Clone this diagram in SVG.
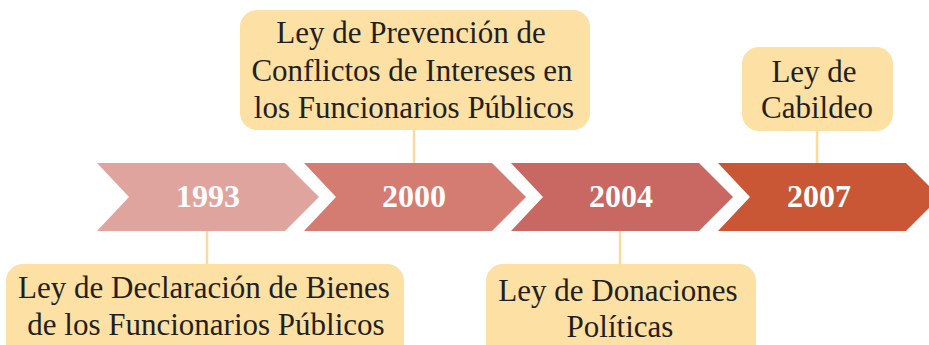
<svg xmlns="http://www.w3.org/2000/svg" width="929" height="345" viewBox="0 0 929 345">
<style>
.box{fill:#FDE0A3}
.lbl{font-family:"Liberation Serif","Times New Roman",serif;font-size:31px;fill:#231F20;text-anchor:middle}
.yr{font-family:"Liberation Serif","Times New Roman",serif;font-size:32px;font-weight:bold;fill:#FFFFFF;text-anchor:middle}
.conn{stroke:#FADB9B;stroke-width:2.5;fill:none}
</style>
<rect width="929" height="345" fill="#FFFFFF"/>
<g id="connectors">
<line class="conn" x1="207" y1="231" x2="207" y2="265"/>
<line class="conn" x1="414" y1="129" x2="414" y2="164"/>
<line class="conn" x1="620" y1="231" x2="620" y2="265"/>
<line class="conn" x1="817" y1="130" x2="817" y2="164"/>
</g>
<g id="y1993">
<polygon points="97,163 285,163 319,197 285,231 97,231 129,197" fill="#E0A49F"/>
<text class="yr" x="208" y="207">1993</text>
</g>
<g id="y2000">
<polygon points="304,163 492,163 526,197 492,231 304,231 336,197" fill="#D57C72"/>
<text class="yr" x="414" y="207">2000</text>
</g>
<g id="y2004">
<polygon points="511,163 699,163 733,197 699,231 511,231 543,197" fill="#C96762"/>
<text class="yr" x="621" y="207">2004</text>
</g>
<g id="y2007">
<polygon points="718,163 906,163 940,197 906,231 718,231 750,197" fill="#C95634"/>
<text class="yr" x="819" y="207">2007</text>
</g>
<g id="ley-declaracion">
<rect class="box" x="6" y="264" width="398" height="100" rx="17"/>
<text class="lbl" x="204" y="298">Ley de Declaración de Bienes</text>
<text class="lbl" x="206" y="335">de los Funcionarios Públicos</text>
</g>
<g id="ley-prevencion">
<rect class="box" x="240" y="10" width="350" height="120" rx="17"/>
<text class="lbl" x="411" y="43">Ley de Prevención de</text>
<text class="lbl" x="412" y="81">Conflictos de Intereses en</text>
<text class="lbl" x="414" y="118">los Funcionarios Públicos</text>
</g>
<g id="ley-donaciones">
<rect class="box" x="486" y="264" width="270" height="100" rx="17"/>
<text class="lbl" x="618" y="301">Ley de Donaciones</text>
<text class="lbl" x="620" y="337">Políticas</text>
</g>
<g id="ley-cabildeo">
<rect class="box" x="742" y="47" width="151" height="84" rx="17"/>
<text class="lbl" x="814" y="82">Ley de</text>
<text class="lbl" x="817" y="118">Cabildeo</text>
</g>
</svg>
